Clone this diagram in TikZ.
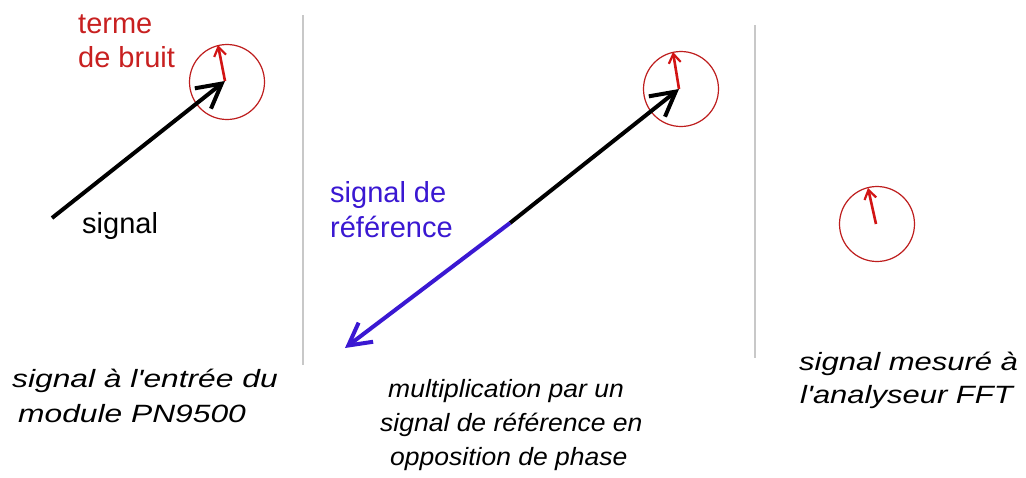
\documentclass[tikz,border=0pt]{standalone}
\usepackage{fontspec}
\setmainfont{Liberation Sans}[Ligatures=TeXOff]
\usetikzlibrary{arrows.meta}
\definecolor{lblred}{RGB}{200,32,32}
\definecolor{ringred}{RGB}{190,30,30}
\definecolor{arrred}{RGB}{210,20,20}
\definecolor{refblue}{RGB}{58,24,210}
\definecolor{sepgray}{RGB}{200,200,200}
\begin{document}
\begin{tikzpicture}[x=1pt,y=-1pt,
  lbl/.style={anchor=base west, inner sep=0pt, font=\fontsize{29}{34}\selectfont},
  captxt/.style={anchor=base west, inner sep=0pt, font=\fontsize{25}{30}\selectfont\itshape},
  ring/.style={circle, draw=ringred, line width=1.2pt, minimum size=75pt, inner sep=0pt},
  sig/.style={line width=4pt, -{Straight Barb[length=24pt,width=26pt,line width=4pt]}},
  refsig/.style={draw=refblue, line width=4pt, -{Straight Barb[length=22pt,width=24pt,line width=4pt]}},
  noise/.style={draw=arrred, line width=2.6pt, -{Straight Barb[length=9pt,width=12pt,line width=2.2pt]}},
  sep/.style={draw=sepgray, line width=1.5pt}]
\useasboundingbox (0,0) rectangle (1026,477);
\fill[white] (0,0) rectangle (1026,477);

% separators
\coordinate (s1a) at (303,15);
\coordinate (s1b) at (303,365);
\coordinate (s2a) at (755,25);
\coordinate (s2b) at (755,358);
\draw[sep] (s1a) -- (s1b);
\draw[sep] (s2a) -- (s2b);

% panel 1
\node[ring] (c1) at (227,82) {};
\coordinate (p1start) at (52,218);
\coordinate (p1tip) at (225,81);
\coordinate (n1tip) at (218,45);
\draw[sig] (p1start) -- (p1tip);
\draw[noise] (p1tip) -- (n1tip);
\node[lbl, text=lblred] (terme) at (78,33) {terme};
\node[lbl, text=lblred] (bruit) at (78,67) {de bruit};
\node[lbl] (signal1) at (82,233) {signal};

% panel 2
\node[ring] (c2) at (681,89) {};
\coordinate (p2mid) at (510,223);
\coordinate (p2tip) at (679,89);
\coordinate (p2ref) at (345,348);
\coordinate (n2tip) at (673,52);
\draw[sig] (p2mid) -- (p2tip);
\draw[refsig] (p2mid) -- (p2ref);
\draw[noise] (p2tip) -- (n2tip);
\node[lbl, text=refblue] (ref1) at (330,202) {signal de};
\node[lbl, text=refblue] (ref2) at (330,237) {référence};

% panel 3
\node[ring] (c3) at (877,224) {};
\coordinate (p3base) at (876,224);
\coordinate (n3tip) at (868,188);
\draw[noise] (p3base) -- (n3tip);

% captions
\node[captxt] (capA1) at (12,387) {\scalebox{1.27}[1]{signal à l'entrée du}};
\node[captxt] (capA2) at (18,422) {\scalebox{1.27}[1]{module PN9500}};
\node[captxt] (capB1) at (388,397) {\scalebox{1.06}[1]{multiplication par un}};
\node[captxt] (capB2) at (380,431) {\scalebox{1.06}[1]{signal de référence en}};
\node[captxt] (capB3) at (390,465) {\scalebox{1.06}[1]{opposition de phase}};
\node[captxt] (capC1) at (799,370) {\scalebox{1.24}[1]{signal mesuré à}};
\node[captxt] (capC2) at (800,403) {\scalebox{1.24}[1]{l'analyseur FFT}};
\end{tikzpicture}
\end{document}
